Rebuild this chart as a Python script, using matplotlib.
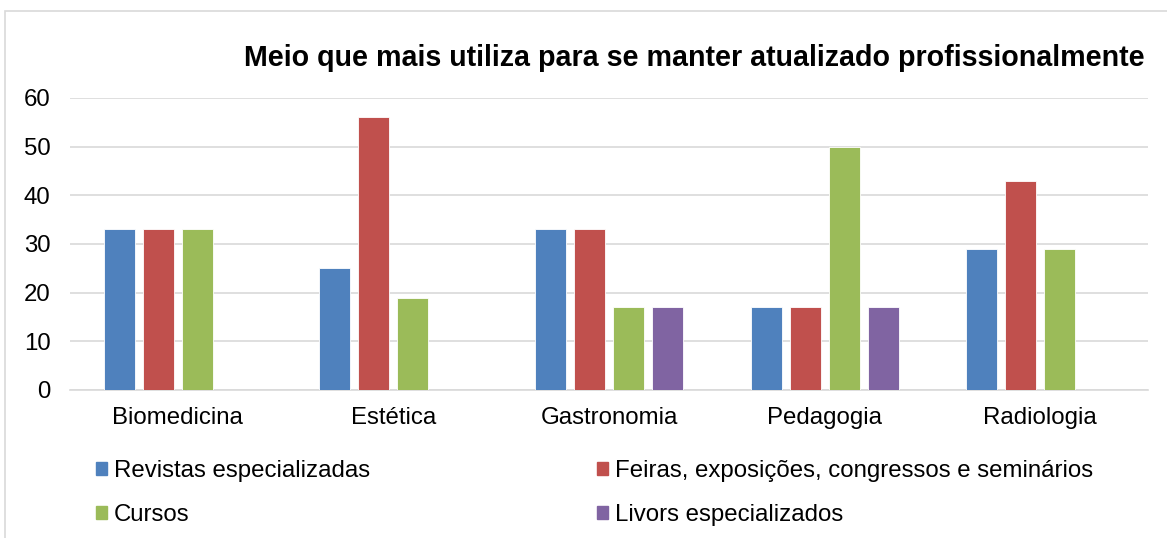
import numpy as np
import matplotlib.pyplot as plt
from matplotlib.patches import Patch, Rectangle

plt.rcParams['font.family'] = ['Liberation Sans', 'DejaVu Sans']

# dados
cursos_area = ['Biomedicina', 'Estética', 'Gastronomia', 'Pedagogia', 'Radiologia']
revistas = [33, 25, 33, 17, 29]
feiras = [33, 56, 33, 17, 43]
cursos = [33, 19, 17, 50, 29]
livros = [0, 0, 17, 17, 0]
series_nomes = ['Revistas especializadas',
                'Feiras, exposições, congressos e seminários',
                'Cursos', 'Livors especializados']
cores = ['#4F81BD', '#C0504D', '#9BBB59', '#8064A2']

fig = plt.figure(figsize=(11.67, 5.38), dpi=100)
ax = fig.add_axes([70 / 1167, 1 - 390 / 538, 1078 / 1167, 292 / 538])

# moldura do gráfico
fig.patches.append(Rectangle((5 / 1167, -0.01), 1.2, 1 - 11 / 538 + 0.01,
                             transform=fig.transFigure, fill=False,
                             edgecolor='#D9D9D9', linewidth=1.2))

x = np.arange(len(cursos_area))
largura = 0.144
passo = 0.181
todas = [revistas, feiras, cursos, livros]
for i, (vals, cor) in enumerate(zip(todas, cores)):
    ax.bar(x + (i - 1.5) * passo, vals, largura, color=cor,
           edgecolor='white', linewidth=0.6, zorder=3)

ax.set_xlim(-0.5, len(cursos_area) - 0.5)
ax.set_ylim(0, 60)
ax.set_yticks(range(0, 61, 10))
ax.set_xticks(x)
ax.set_xticklabels(cursos_area, fontsize=17.3)
ax.tick_params(axis='y', labelsize=17.3, length=0, pad=14)
ax.tick_params(axis='x', length=0, pad=12)
ax.yaxis.grid(True, color='#D9D9D9', linewidth=1.2, zorder=0)
for s in ['top', 'right', 'left']:
    ax.spines[s].set_visible(False)
ax.spines['bottom'].set_color('#D9D9D9')
ax.spines['bottom'].set_linewidth(1.2)

fig.text(1145 / 1167, 1 - 58 / 538,
         'Meio que mais utiliza para se manter atualizado profissionalmente',
         ha='right', va='center', fontsize=20.6, fontweight='bold')

# legenda em duas colunas
handles = [Patch(color=c) for c in cores]
opts = dict(loc='upper left', frameon=False, fontsize=17.3, handlelength=0.45,
            handleheight=0.45, handletextpad=0.3, labelspacing=0.92,
            borderaxespad=0, borderpad=0)
fig.legend([handles[0], handles[2]], [series_nomes[0], series_nomes[2]],
           bbox_to_anchor=(96 / 1167, 1 - 460 / 538), **opts)
fig.legend([handles[1], handles[3]], [series_nomes[1], series_nomes[3]],
           bbox_to_anchor=(597 / 1167, 1 - 460 / 538), **opts)

fig.savefig('out.png', dpi=100)
